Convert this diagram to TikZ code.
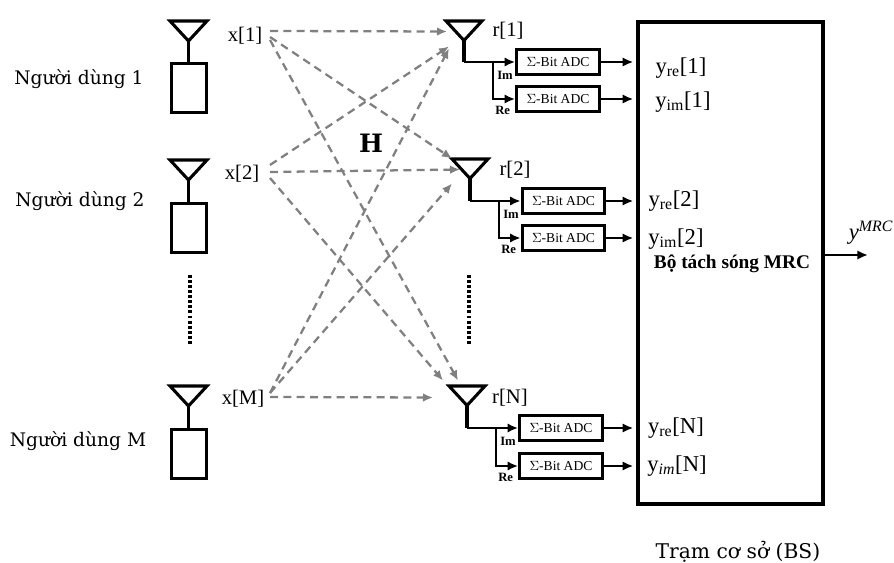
\documentclass[tikz,border=0pt]{standalone}
\usepackage{fontspec}
\usepackage{tikz}
\usepackage{xcolor}
\setmainfont{Liberation Serif}
\newfontfamily\slabfont{DejaVu Serif}
\usetikzlibrary{arrows.meta, positioning, fit}

\begin{document}
\begin{tikzpicture}[
  x=0.75pt, y=-0.75pt,
  ant/.style={draw, line width=2.3pt, line join=miter},
  userbox/.style={draw, line width=2.4pt, minimum width=26.5pt, minimum height=37pt, inner sep=0pt},
  adc/.style={draw, line width=2.2pt, minimum width=62pt, minimum height=19pt, inner sep=0pt, font=\fontsize{10.2}{11}\selectfont},
  sig/.style={font=\fontsize{15.5}{17}\selectfont, inner sep=0pt},
  outsig/.style={font=\fontsize{17}{19}\selectfont, inner sep=0pt},
  user/.style={font=\slabfont\fontsize{14}{16}\selectfont, inner sep=0pt},
  part/.style={font=\bfseries\fontsize{9.5}{10}\selectfont, inner sep=0pt},
  wire/.style={line width=2.2pt, -{Latex[length=8pt,width=7pt]}},
  hlink/.style={draw=gray, line width=1.7pt, dash pattern=on 6pt off 4pt, -{Latex[length=7.5pt,width=6.5pt]}},
  dotline/.style={line width=2.4pt, dash pattern=on 2.2pt off 1.6pt}
]
\useasboundingbox (0,0) rectangle (894,563);
\node[draw, line width=2.8pt, minimum width=139pt, minimum height=361pt, inner sep=0pt] (bs) at (730.5,263) {};
\node[font=\bfseries\fontsize{14.5}{16}\selectfont, inner sep=0pt] (det) at (732,264) {Bộ tách sóng MRC};
\node[font=\slabfont\fontsize{15.2}{18}\selectfont, inner sep=0pt] (bsname) at (738,552) {Trạm cơ sở (BS)};
\node[font=\slabfont\bfseries\fontsize{19}{21}\selectfont, inner sep=0pt] (hmat) at (371,143) {H};
% users
\foreach \nm/\ay/\by/\ly/\txt/\lx in {1/21/88/79/{Người dùng 1}/79,2/160/228/201/{Người dùng 2}/80,M/386/454/441/{Người dùng M}/78} {
  \draw[ant] (170,\ay) -- (207,\ay) -- (188.5,\ay+20) -- cycle;
  \coordinate (t\nm) at (188.5,\ay+20);
  \node[userbox] (u\nm) at (189,\by) {};
  \draw[ant] (t\nm) -- (u\nm.north -| t\nm);
  \node[user] (n\nm) at (\lx,\ly) {\txt};
}
\node[sig] (x1) at (245,36) {x[1]};
\node[sig] (x2) at (242,174) {x[2]};
\node[sig] (xM) at (243,399) {x[M]};
\coordinate (p1) at (270,35);
\coordinate (p2) at (270,172);
\coordinate (pM) at (270,395);
% receive chains
\foreach \nm/\ax/\ay/\jx/\cx/\ya/\yb/\rx/\ry/\txt in {1/464/21/493/558/62/99/508/31/1,2/470/159/499/563.5/201/238/515/170/2,N/467/386/496/561/428/466/510/398/N} {
  \draw[ant] (\ax-18,\ay) -- (\ax+18,\ay) -- (\ax,\ay+19.5) -- cycle;
  \coordinate (a\nm) at (\ax,\ay+19.5);
  \node[sig] (r\nm) at (\rx,\ry) {r[\txt]};
  \node[adc] (ci\nm) at (\cx,\ya) {$\Sigma$-Bit ADC};
  \node[adc] (cq\nm) at (\cx,\yb) {$\Sigma$-Bit ADC};
  \coordinate (b\nm) at (\ax,\ya);
  \coordinate (j\nm) at (\jx,\ya);
  \draw[ant] (a\nm) -- (b\nm);
  \draw[wire] (b\nm) -- (ci\nm.west);
  \draw[wire] (j\nm) |- (cq\nm.west);
  \draw[wire, shorten >=2pt] (ci\nm.east) -- (ci\nm.east -| bs.west);
  \draw[wire, shorten >=2pt] (cq\nm.east) -- (cq\nm.east -| bs.west);
  \node[part, below right=6.5pt and 3pt of j\nm] (im\nm) {Im};
  \node[part, below left=5pt and -13pt of cq\nm.west -| j\nm] (re\nm) {Re};
}
\node[outsig] (y1) at (681,68) {y\textsubscript{re}[1]};
\node[outsig] (z1) at (683,102) {y\textsubscript{im}[1]};
\node[outsig] (y2) at (674,201) {y\textsubscript{re}[2]};
\node[outsig] (z2) at (676,239) {y\textsubscript{im}[2]};
\node[outsig] (yN) at (676,428) {y\textsubscript{re}[N]};
\node[outsig] (zN) at (677,466) {y\textsubscript{\itshape im}[N]};
% channel
\foreach \s/\sy/\t/\ex/\ey in {1/-4/1/-17/-9,1/2/2/-18/-20,1/5/N/-9/-25,2/-7/1/-15/6,2/0/2/-10/-9,2/6/N/-24/-25,M/-2/1/-15/8,M/-2/2/-18/5,M/2/N/-34/-8} {
  \draw[hlink] ([shift={(0,\sy)}]p\s) -- ([shift={(\ex,\ey)}]a\t);
}
\coordinate (dl1) at (190,275);
\coordinate (dl2) at (190,345);
\coordinate (dr1) at (469,275);
\coordinate (dr2) at (469,345);
\draw[dotline] (dl1) -- (dl2);
\draw[dotline] (dr1) -- (dr2);
\coordinate (oc) at (868,255);
\draw[wire] (bs.east |- oc) -- (oc);
\node[font=\itshape\fontsize{17}{19}\selectfont, inner sep=0pt] (ymrc) at (871,233) {y\textsuperscript{MRC}};
\end{tikzpicture}
\end{document}
